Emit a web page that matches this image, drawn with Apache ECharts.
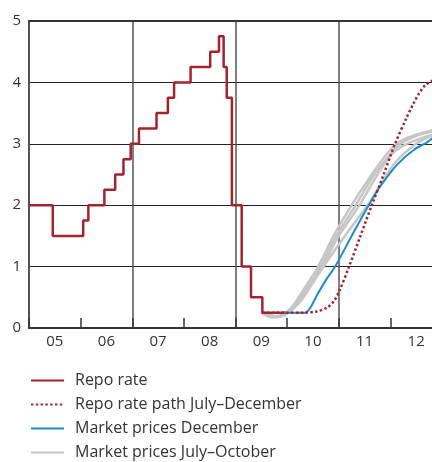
<!DOCTYPE html>
<html>
<head>
<meta charset="utf-8">
<script src="https://cdn.jsdelivr.net/npm/echarts@6/dist/echarts.min.js"></script>
<style>html,body{margin:0;padding:0;background:#fff}#c{width:432px;height:462px}</style>
</head>
<body>
<div id="c"></div>
<script>
// Tick labels
const yearLabels = ['05','06','07','08','09','10','11','12'];
const firstYear = 2005;

// Repo rate (decision time, new level)
const repoRate = [
  [2005.0, 2.0], [2005.46, 1.5], [2006.05, 1.75], [2006.15, 2.0], [2006.46, 2.25],
  [2006.67, 2.5], [2006.83, 2.75], [2006.97, 3.0], [2007.13, 3.25], [2007.47, 3.5],
  [2007.69, 3.75], [2007.81, 4.0], [2008.13, 4.25], [2008.51, 4.5], [2008.68, 4.75],
  [2008.77, 4.25], [2008.83, 3.75], [2008.93, 2.0], [2009.12, 1.0], [2009.30, 0.5],
  [2009.52, 0.25], [2009.98, 0.25]
];

// Repo rate path July–December
const repoPath = [
  [2009.52, 0.25], [2010.0, 0.25], [2010.35, 0.25], [2010.57, 0.27], [2010.77, 0.33],
  [2010.9, 0.43], [2011.01, 0.6], [2011.2, 1.0], [2011.42, 1.5], [2011.64, 2.0],
  [2011.87, 2.5], [2012.09, 3.0], [2012.3, 3.4], [2012.45, 3.66], [2012.57, 3.84],
  [2012.68, 3.96], [2012.81, 4.03]
];

// Market prices December
const marketDec = [
  [2009.9, 0.25], [2010.2, 0.25], [2010.35, 0.25], [2010.45, 0.33], [2010.57, 0.52],
  [2010.75, 0.78], [2010.93, 1.0], [2011.25, 1.5], [2011.58, 2.0], [2011.8, 2.3],
  [2012.13, 2.66], [2012.45, 2.9], [2012.7, 3.02], [2012.81, 3.09]
];

// Market prices July–October (four occasions)
const marketJul = [
  [2009.5, 0.25], [2009.7, 0.19], [2009.9, 0.21], [2010.1, 0.35], [2010.3, 0.6],
  [2010.6, 1.0], [2010.9, 1.5], [2011.25, 2.0], [2011.6, 2.45], [2011.9, 2.8],
  [2012.12, 3.0], [2012.4, 3.12], [2012.81, 3.22]
];
const marketAug = [
  [2009.5, 0.25], [2009.72, 0.17], [2009.95, 0.22], [2010.15, 0.38], [2010.38, 0.63],
  [2010.65, 1.0], [2010.95, 1.5], [2011.33, 2.0], [2011.65, 2.45], [2011.95, 2.78],
  [2012.2, 3.0], [2012.5, 3.13], [2012.81, 3.2]
];
const marketSep = [
  [2009.55, 0.25], [2009.78, 0.18], [2010.0, 0.25], [2010.2, 0.42], [2010.42, 0.68],
  [2010.68, 1.0], [2011.0, 1.5], [2011.4, 2.0], [2011.75, 2.5], [2012.05, 2.85],
  [2012.32, 3.0], [2012.81, 3.15]
];
const marketOct = [
  [2009.6, 0.25], [2009.82, 0.18], [2010.05, 0.26], [2010.3, 0.48], [2010.55, 0.8],
  [2010.8, 1.12], [2011.12, 1.5], [2011.6, 2.05], [2011.8, 2.32], [2012.1, 2.7],
  [2012.5, 3.0], [2012.81, 3.14]
];

const names = ['Repo rate', 'Repo rate path July–December', 'Market prices December', 'Market prices July–October'];
const RED = '#a3242c', BLUE = '#1f8ad2', GRAY = '#c6c6c6';
const FONT = 'Open Sans';

const chart = echarts.init(document.getElementById('c'), null, {renderer: 'canvas'});
const graySeries = [marketJul, marketAug, marketSep, marketOct].map(d => ({
  name: names[3], type: 'line', data: d, symbol: 'none', smooth: 0.3,
  lineStyle: {color: GRAY, width: 2.5}, itemStyle: {color: GRAY}, z: 2, silent: true
}));

chart.setOption({
  animation: false,
  backgroundColor: '#fff',
  grid: {left: 29, width: 413, top: 21, bottom: 134, outerBoundsMode: 'none', containLabel: false},
  legend: {
    data: names, orient: 'vertical', left: 30, top: 371, padding: 0,
    itemWidth: 33, itemHeight: 14, itemGap: 5,
    itemStyle: {opacity: 0},
    textStyle: {fontFamily: FONT, fontSize: 16, color: '#333', lineHeight: 19, padding: [0, 0, 0, 6]}
  },
  xAxis: [{
    type: 'value', min: 2005, max: 2013, interval: 1, position: 'bottom',
    axisLine: {show: true, onZero: false, lineStyle: {color: '#333', width: 2}},
    axisTick: {show: true, inside: true, length: 10, lineStyle: {color: '#333', width: 1.5}},
    splitLine: {show: false},
    axisLabel: {
      margin: 6, color: '#333', fontFamily: FONT, fontSize: 15,
      formatter: v => {
        const i = Math.round(v - firstYear);
        return (Math.abs(v - Math.round(v)) < 1e-6 && i >= 0 && i < yearLabels.length) ? '{a|' + yearLabels[i] + '}' : '';
      },
      rich: {a: {padding: [0, 0, 0, 51.6], fontFamily: FONT, fontSize: 15, color: '#333'}}
    }
  }, {
    type: 'value', min: 2005, max: 2013, interval: 2, position: 'top',
    axisLine: {show: true, onZero: false, lineStyle: {color: '#333', width: 2}},
    axisTick: {show: false}, axisLabel: {show: false},
    splitLine: {show: true, lineStyle: {color: '#555', width: 1.5}}
  }],
  yAxis: {
    type: 'value', min: 0, max: 5, interval: 1,
    axisLine: {show: true, lineStyle: {color: '#444', width: 1.5}},
    axisTick: {show: false},
    axisLabel: {margin: 8, color: '#333', fontFamily: FONT, fontSize: 15},
    splitLine: {show: true, lineStyle: {color: '#222', width: 1.2}}
  },
  series: [
    {name: names[0], type: 'line', data: repoRate, step: 'end', symbol: 'none',
     lineStyle: {color: RED, width: 2.5}, itemStyle: {color: RED}, z: 3},
    ...graySeries,
    {name: names[2], type: 'line', data: marketDec, symbol: 'none', smooth: 0.3,
     lineStyle: {color: BLUE, width: 2}, itemStyle: {color: BLUE}, z: 4},
    {name: names[1], type: 'line', data: repoPath, symbol: 'none', smooth: 0.3,
     lineStyle: {color: RED, width: 2.5, type: [2.4, 2.4]}, itemStyle: {color: RED}, z: 5}
  ]
});
</script>
</body>
</html>
